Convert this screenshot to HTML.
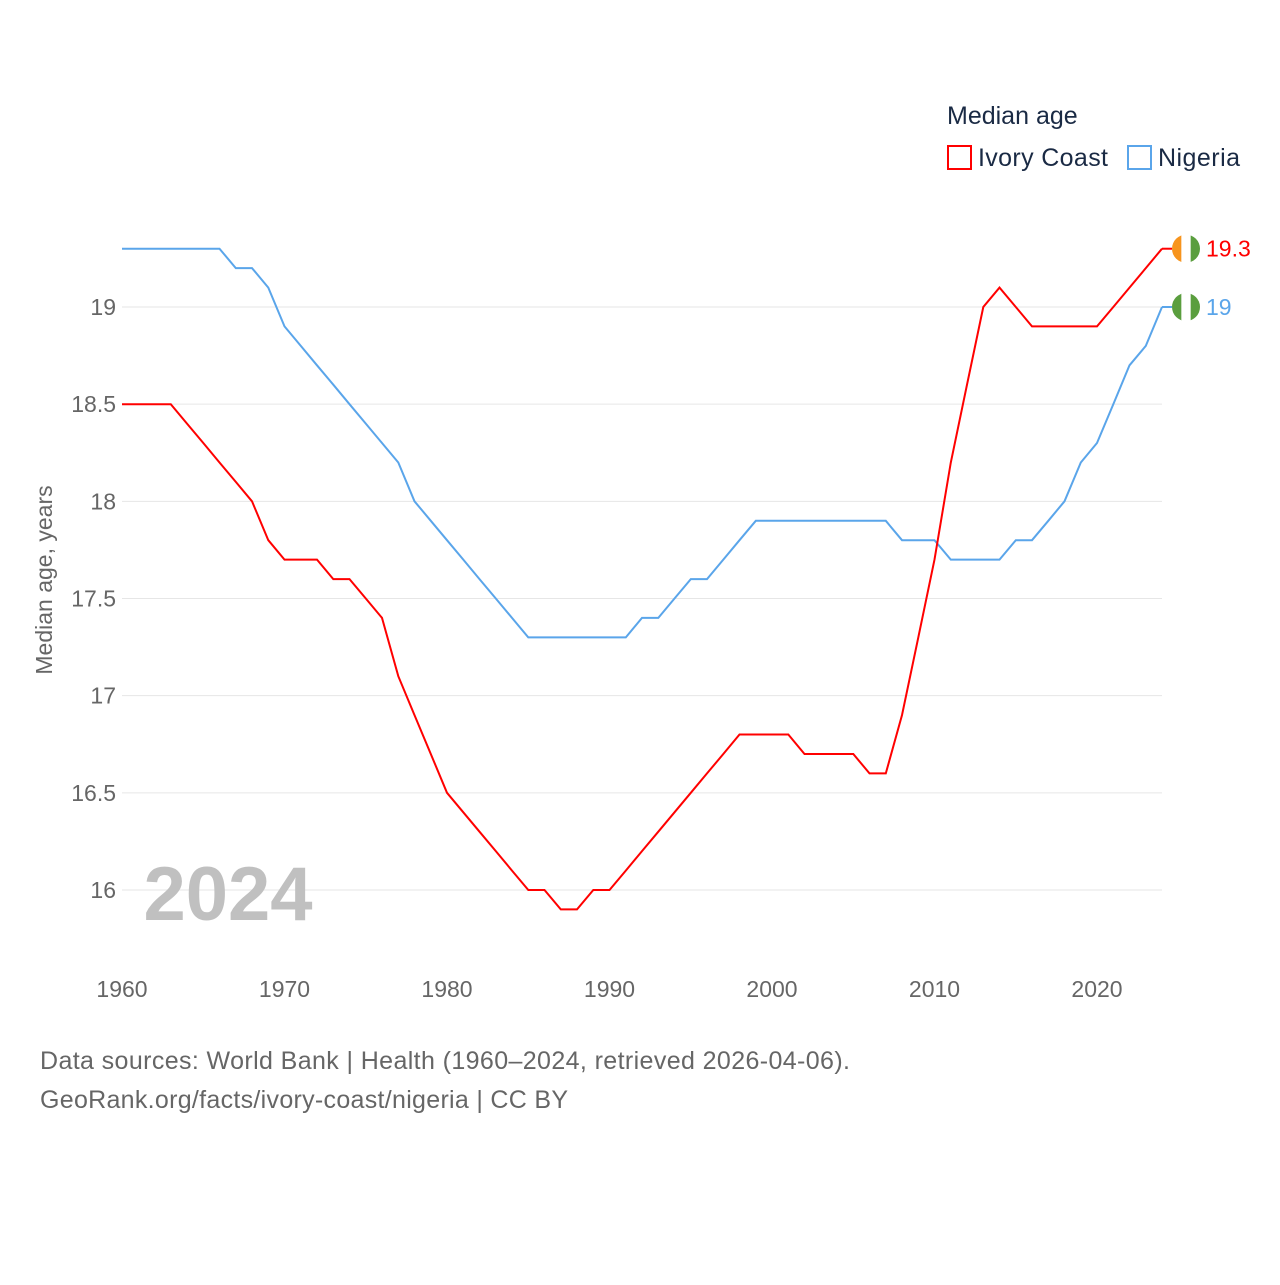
<!DOCTYPE html>
<html><head><meta charset="utf-8"><style>
body{margin:0;background:#fff;font-family:"Liberation Sans",sans-serif;}
svg text{font-family:"Liberation Sans",sans-serif;}
</style></head><body>
<svg id="chart" width="1280" height="1280">
<g id="grid"></g>
<g id="yt"></g>
<g id="xt"></g>
<text x="228" y="920" font-size="76" font-weight="bold" fill="#c0c0c0" text-anchor="middle">2024</text>
<g id="lines"></g>
<text transform="translate(52,580) rotate(-90)" font-size="23" fill="#666" text-anchor="middle">Median age, years</text>
<text x="947" y="124" font-size="25" fill="#1a2a44">Median age</text>
<g><rect x="948" y="146" width="23" height="23" fill="none" stroke="#f00" stroke-width="2"/><text x="978" y="166" font-size="25" fill="#1a2a44" textLength="130">Ivory Coast</text></g>
<g><rect x="1128" y="146" width="23" height="23" fill="none" stroke="#5aa5ea" stroke-width="2"/><text x="1158" y="166" font-size="25" fill="#1a2a44" textLength="82">Nigeria</text></g>
<text x="40" y="1069" font-size="25" fill="#666" textLength="810">Data sources: World Bank | Health (1960–2024, retrieved 2026-04-06).</text>
<text x="40" y="1108" font-size="25" fill="#666" textLength="528">GeoRank.org/facts/ivory-coast/nigeria | CC BY</text>
</svg>
<script>
const years=[];for(let y=1960;y<=2024;y++)years.push(y);
const ivoryCoast=[18.5,18.5,18.5,18.5,18.4,18.3,18.2,18.1,18.0,17.8,17.7,17.7,17.7,17.6,17.6,17.5,17.4,17.1,16.9,16.7,16.5,16.4,16.3,16.2,16.1,16.0,16.0,15.9,15.9,16.0,16.0,16.1,16.2,16.3,16.4,16.5,16.6,16.7,16.8,16.8,16.8,16.8,16.7,16.7,16.7,16.7,16.6,16.6,16.9,17.3,17.7,18.2,18.6,19.0,19.1,19.0,18.9,18.9,18.9,18.9,18.9,19.0,19.1,19.2,19.3];
const nigeria=[19.3,19.3,19.3,19.3,19.3,19.3,19.3,19.2,19.2,19.1,18.9,18.8,18.7,18.6,18.5,18.4,18.3,18.2,18.0,17.9,17.8,17.7,17.6,17.5,17.4,17.3,17.3,17.3,17.3,17.3,17.3,17.3,17.4,17.4,17.5,17.6,17.6,17.7,17.8,17.9,17.9,17.9,17.9,17.9,17.9,17.9,17.9,17.9,17.8,17.8,17.8,17.7,17.7,17.7,17.7,17.8,17.8,17.9,18.0,18.2,18.3,18.5,18.7,18.8,19.0];
const yTicks=[16,16.5,17,17.5,18,18.5,19];
const xTicks=[1960,1970,1980,1990,2000,2010,2020];
const NS='http://www.w3.org/2000/svg';
const X=y=>122+(y-1960)*16.25;
const Y=v=>890-(v-16)*194.33;
function mk(t,a,p){const e=document.createElementNS(NS,t);for(const k in a)e.setAttribute(k,a[k]);p.appendChild(e);return e;}
const grid=document.getElementById('grid'),yt=document.getElementById('yt'),xt=document.getElementById('xt'),lines=document.getElementById('lines');
yTicks.forEach(v=>{
 const l=mk('line',{x1:122,x2:1162,y1:Y(v),y2:Y(v),stroke:'#e6e6e6','stroke-width':1},grid);
 
 
 const t=mk('text',{x:116,y:Y(v)+8,'font-size':23,fill:'#666','text-anchor':'end'},yt);t.textContent=v;
 
 
});
xTicks.forEach(v=>{
 const t=mk('text',{x:X(v),y:997,'font-size':23,fill:'#666','text-anchor':'middle'},xt);t.textContent=v;
 
 
});
function series(vals,color,name,flag){
 const d=vals.map((v,i)=>(i?'L':'M')+X(years[i]).toFixed(1)+','+Y(v).toFixed(1)).join('');
 const p=mk('path',{d:d,fill:'none',stroke:color,'stroke-width':2},lines);
 
 
 const last=vals[vals.length-1],cx=X(2024)+24,cy=Y(last);
 const g=mk('g',{},lines);
 
 
 mk('line',{x1:X(2024),x2:cx-14,y1:cy,y2:cy,stroke:color,'stroke-width':2},g);
 const cp=mk('clipPath',{id:'c'+name},g);mk('circle',{cx:cx,cy:cy,r:14},cp);
 const gg=mk('g',{'clip-path':'url(#c'+name+')'},g);
 flag.forEach((c,i)=>mk('rect',{x:cx-14+i*28/3,y:cy-14,width:28/3+0.5,height:28,fill:c},gg));
 const t=mk('text',{x:cx+20,y:cy+8,'font-size':23,fill:color},lines);t.textContent=last;
 
 
}
series(nigeria,'#5aa5ea','nigeria',['#5a9e3e','#fff','#5a9e3e']);
series(ivoryCoast,'#f00','ivory-coast',['#f7941d','#fff','#5a9e3e']);
</script>
</body></html>
